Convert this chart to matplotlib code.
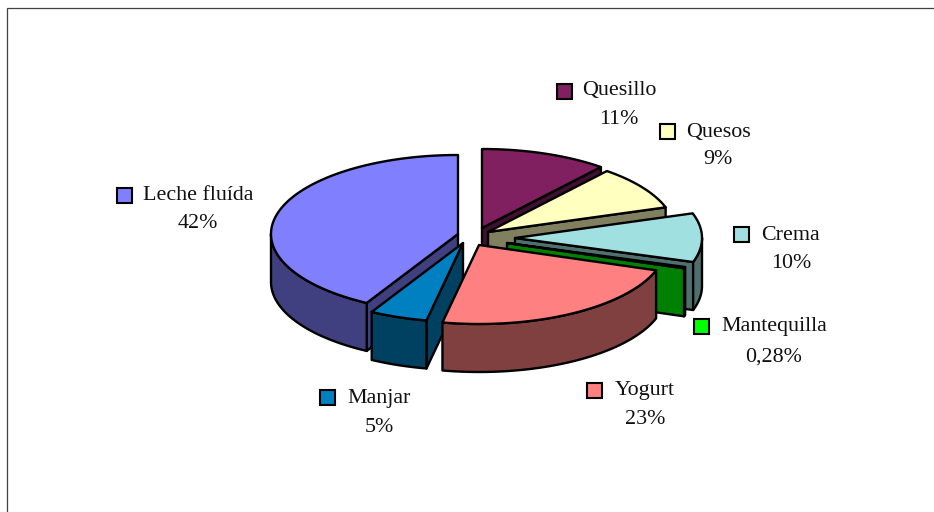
import numpy as np
import matplotlib
matplotlib.use("Agg")
import matplotlib.pyplot as plt
from matplotlib.patches import Polygon, Rectangle

categories = ["Quesillo", "Quesos", "Crema", "Mantequilla", "Yogurt", "Manjar", "Leche fluída"]
values = [11, 9, 10, 0.28, 23, 5, 42]
value_labels = ["11%", "9%", "10%", "0,28%", "23%", "5%", "42%"]

top_colors = ["#802060", "#FFFFC0", "#A0E0E0", "#00FF00", "#FF8080", "#0080C0", "#8080FF"]
side_colors = ["#401030", "#808060", "#507070", "#008000", "#804040", "#004060", "#404080"]

# layout (pixels)
tips = [(482, 228), (488, 232), (515, 238), (507, 243), (479, 245), (463, 243), (458, 234)]
RX, RY, DEPTH = 187, 79, 48
swatches = [(557, 84), (660, 124), (734, 227), (694, 319), (587, 383), (320, 390), (117, 188)]
name_pos = [(619.5, 91), (718.5, 132), (790, 235), (774.5, 327), (644.5, 391), (379.5, 398), (198.5, 196)]
value_pos = [(619, 120), (718, 160), (791, 264), (774, 357), (645, 420), (379, 427), (198, 224)]
draw_order = [0, 1, 2, 3, 6, 5, 4]

plt.rcParams["font.family"] = ["Liberation Serif", "DejaVu Serif"]
fig = plt.figure(figsize=(9.34, 5.12), dpi=100, facecolor="white")
ax = fig.add_axes([0, 0, 1, 1])
ax.set_xlim(0, 934)
ax.set_ylim(512, 0)
ax.axis("off")

ax.plot([6.5, 6.5, 934], [512, 7.5, 7.5], color="#404040", lw=0.9, solid_joinstyle="miter")

LW = 1.7


def pt(c, deg, dz=0):
    t = np.radians(deg)
    return np.column_stack([c[0] + RX * np.sin(t), c[1] - RY * np.cos(t) + dz])


def face(xy, color, z):
    ax.add_patch(Polygon(xy, closed=True, facecolor=color, edgecolor="black",
                         lw=LW, joinstyle="round", zorder=z))


total = sum(values)
edges = np.concatenate([[0], np.cumsum(values)]) / total * 360

for rank, i in enumerate(draw_order):
    a, b = edges[i], edges[i + 1]
    c = tips[i]
    z = 2 + rank
    c_low = (c[0], c[1] + DEPTH)
    # radial walls facing the viewer
    if np.sin(np.radians(a)) < 0:
        p = pt(c, a)[0]
        face([c, p, (p[0], p[1] + DEPTH), c_low], side_colors[i], z)
    if np.sin(np.radians(b)) > 0:
        p = pt(c, b)[0]
        face([c, p, (p[0], p[1] + DEPTH), c_low], side_colors[i], z)
    # outer wall
    lo, hi = max(a, 90), min(b, 270)
    if hi > lo:
        th = np.linspace(lo, hi, 80)
        face(np.vstack([pt(c, th), pt(c, th[::-1], DEPTH)]), side_colors[i], z)
    # top
    th = np.linspace(a, b, 120)
    face(np.vstack([[c], pt(c, th)]), top_colors[i], z)

for i, name in enumerate(categories):
    sx, sy = swatches[i]
    ax.add_patch(Rectangle((sx, sy), 14.5, 14.5, facecolor=top_colors[i], edgecolor="black", lw=1.5, zorder=20))
    ax.text(*name_pos[i], name, ha="center", va="center", fontsize=15.8, color="#111111", zorder=21)
    ax.text(*value_pos[i], value_labels[i], ha="center", va="center", fontsize=15.8, color="#111111", zorder=21)

fig.savefig("out.png", dpi=100, facecolor="white")
